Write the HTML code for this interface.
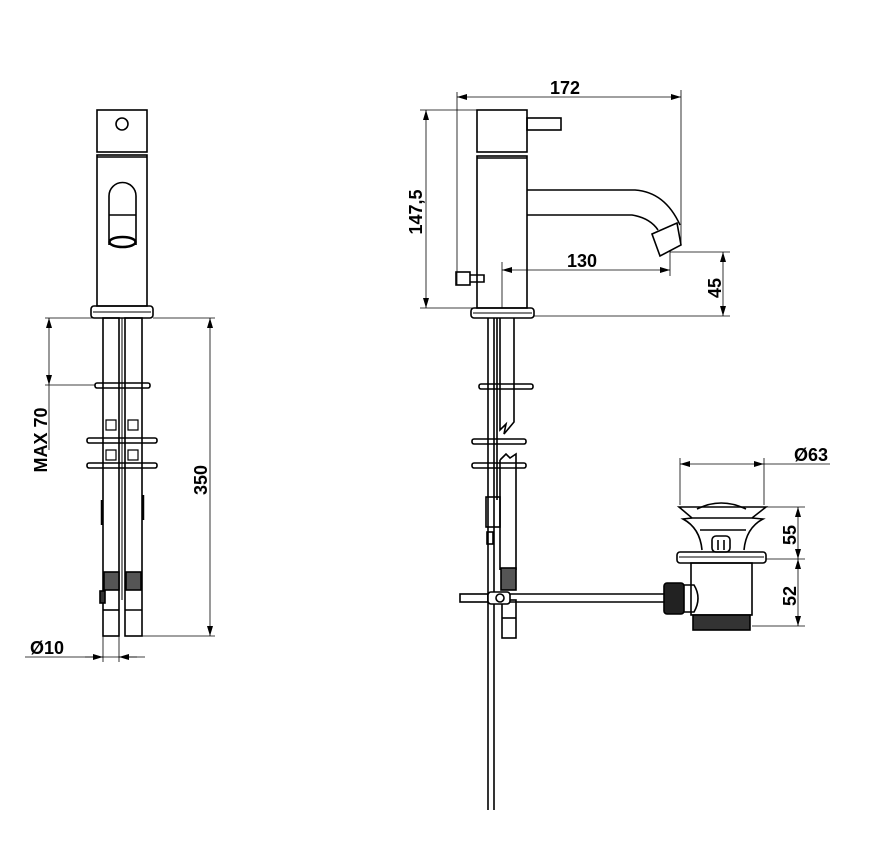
<!DOCTYPE html>
<html><head><meta charset="utf-8"><style>html,body{margin:0;padding:0;background:#fff}svg{display:block}</style></head>
<body>
<svg width="884" height="853" viewBox="0 0 884 853" xmlns="http://www.w3.org/2000/svg" font-family="Liberation Sans, sans-serif" font-weight="bold" font-size="18">
<defs>
<marker id="a" viewBox="0 0 10 6" refX="10" refY="3" markerWidth="10" markerHeight="6" orient="auto-start-reverse" markerUnits="userSpaceOnUse"><path d="M0,0 L10,3 L0,6 z" fill="#000"/></marker>
</defs>
<g fill="none" stroke="#000" stroke-width="1.6">
<!-- LEFT VIEW -->
<rect x="97" y="110" width="50" height="42"/>
<circle cx="122" cy="124" r="6"/>
<rect x="97" y="155" width="50" height="151"/>
<line x1="97" y1="157" x2="147" y2="157"/>
<path d="M109,245 V196 a13.5,13.5 0 0 1 27,0 V245"/>
<path d="M109,215 H136"/>
<ellipse cx="122.5" cy="242" rx="13" ry="5" stroke-width="2.5"/>
<rect x="91" y="306" width="62" height="12" rx="3"/>
<line x1="93" y1="312" x2="151" y2="312" stroke-width="1"/>
<rect x="103" y="318" width="16" height="318"/>
<rect x="125" y="318" width="17" height="318"/>
<line x1="122" y1="318" x2="122" y2="600" stroke-width="1"/>
<rect x="95" y="383" width="55" height="5" rx="2"/>
<rect x="87" y="438" width="70" height="5" rx="2"/>
<rect x="87" y="463" width="70" height="5" rx="2"/>
<path d="M106,420 h10 v10 h-10 z M128,420 h10 v10 h-10 z M106,450 h10 v10 h-10 z M128,450 h10 v10 h-10 z" stroke-width="1.2"/>
<rect x="104" y="572" width="15" height="18" fill="#555"/>
<rect x="126" y="572" width="15" height="18" fill="#555"/>
<rect x="100" y="591" width="5" height="12" fill="#333"/>
<line x1="103" y1="610" x2="119" y2="610"/><line x1="125" y1="610" x2="142" y2="610"/>
<line x1="102" y1="500" x2="102" y2="525" stroke-width="2.5"/>
<line x1="143" y1="495" x2="143" y2="520" stroke-width="2.5"/>
</g>
<g fill="none" stroke="#000" stroke-width="0.8">
<line x1="153" y1="318" x2="215" y2="318"/>
<line x1="142" y1="636" x2="215" y2="636"/>
<line x1="210" y1="318" x2="210" y2="636" marker-start="url(#a)" marker-end="url(#a)"/>
<line x1="45" y1="318" x2="103" y2="318"/>
<line x1="45" y1="385" x2="95" y2="385"/>
<line x1="49" y1="318" x2="49" y2="385" marker-start="url(#a)" marker-end="url(#a)"/>
<line x1="49" y1="385" x2="49" y2="450"/>
<line x1="103" y1="636" x2="103" y2="662"/>
<line x1="119" y1="636" x2="119" y2="662"/>
<line x1="25" y1="657" x2="145" y2="657"/>
<line x1="85" y1="657" x2="103" y2="657" marker-end="url(#a)"/>
<line x1="137" y1="657" x2="119" y2="657" marker-end="url(#a)"/>
</g>
<text x="0" y="0" transform="translate(207,480) rotate(-90)" text-anchor="middle">350</text>
<text x="0" y="0" transform="translate(47,440) rotate(-90)" text-anchor="middle">MAX 70</text>
<text x="30" y="654">Ø10</text>

<!-- RIGHT VIEW -->
<g fill="none" stroke="#000" stroke-width="1.6">
<rect x="477" y="110" width="50" height="42"/>
<rect x="527" y="118" width="34" height="12"/>
<rect x="477" y="156" width="50" height="152"/>
<line x1="477" y1="158" x2="527" y2="158"/>
<path d="M527,190 H635 Q665,192 680,225"/>
<path d="M527,215 H632 Q650,218 658,230"/>
<path d="M652,234 L677,223 L681,245 L660,256 Z" fill="#fff"/>
<rect x="456" y="272" width="14" height="13"/>
<path d="M470,275 H484 V282 H470"/>
<rect x="471" y="308" width="63" height="10" rx="3"/>
<line x1="473" y1="313" x2="532" y2="313" stroke-width="1"/>
<line x1="488" y1="318" x2="488" y2="810"/>
<line x1="494" y1="318" x2="494" y2="810"/>
<line x1="497" y1="318" x2="497" y2="500"/>
<path d="M500,318 V430 l6,-6 l-2,10 l10,-12 V318"/>
<path d="M500,460 l6,-6 l4,4 l6,-4 V570 M500,460 V570"/>
<rect x="479" y="384" width="54" height="5" rx="2"/>
<rect x="472" y="439" width="54" height="5" rx="2"/>
<rect x="472" y="463" width="54" height="5" rx="2"/>
<rect x="486" y="497" width="14" height="30"/>
<rect x="487" y="532" width="6" height="12"/>
<rect x="501" y="568" width="15" height="22" fill="#555"/>
<rect x="502" y="600" width="14" height="38"/>
<line x1="502" y1="618" x2="516" y2="618"/>
<rect x="460" y="594" width="28" height="8"/>
<rect x="488" y="592" width="22" height="12" rx="3" fill="#fff"/>
<circle cx="500" cy="598" r="4" fill="#fff"/>
<line x1="510" y1="594" x2="664" y2="594"/>
<line x1="510" y1="602" x2="664" y2="602"/>
<!-- drain -->
<path d="M697,509 Q721,497 746,509"/>
<path d="M679,507 H766 L752,518 H692 Z"/>
<path d="M692,518 L683,519 Q700,528 702,550 M752,518 L763,519 Q746,528 744,550"/>
<line x1="700" y1="530" x2="746" y2="530"/>
<rect x="712" y="536" width="18" height="16" rx="4"/>
<line x1="718" y1="540" x2="718" y2="550"/><line x1="724" y1="540" x2="724" y2="550"/>
<rect x="677" y="552" width="89" height="11" rx="3"/>
<line x1="679" y1="557" x2="764" y2="557" stroke-width="1"/>
<rect x="691" y="563" width="61" height="52"/>
<rect x="693" y="615" width="57" height="15" fill="#333"/>
<path d="M684,585 H694 Q702,598 694,612 H684"/>
<rect x="664" y="583" width="20" height="31" rx="3" fill="#222"/>
</g>
<g fill="none" stroke="#000" stroke-width="0.8">
<line x1="457" y1="92" x2="457" y2="285"/>
<line x1="681" y1="90" x2="681" y2="245"/>
<line x1="457" y1="97" x2="681" y2="97" marker-start="url(#a)" marker-end="url(#a)"/>
<line x1="420" y1="110" x2="477" y2="110"/>
<line x1="420" y1="308" x2="473" y2="308"/>
<line x1="426" y1="110" x2="426" y2="308" marker-start="url(#a)" marker-end="url(#a)"/>
<line x1="502" y1="262" x2="502" y2="308"/>
<line x1="670" y1="250" x2="670" y2="276"/>
<line x1="502" y1="270" x2="670" y2="270" marker-start="url(#a)" marker-end="url(#a)"/>
<line x1="670" y1="252" x2="730" y2="252"/>
<line x1="534" y1="316" x2="730" y2="316"/>
<line x1="723" y1="252" x2="723" y2="316" marker-start="url(#a)" marker-end="url(#a)"/>
<line x1="680" y1="458" x2="680" y2="505"/>
<line x1="764" y1="458" x2="764" y2="505"/>
<line x1="680" y1="464" x2="764" y2="464" marker-start="url(#a)" marker-end="url(#a)"/>
<line x1="764" y1="464" x2="830" y2="464"/>
<line x1="766" y1="507" x2="805" y2="507"/>
<line x1="766" y1="559" x2="805" y2="559"/>
<line x1="752" y1="626" x2="805" y2="626"/>
<line x1="798" y1="507" x2="798" y2="559" marker-start="url(#a)" marker-end="url(#a)"/>
<line x1="798" y1="559" x2="798" y2="626" marker-start="url(#a)" marker-end="url(#a)"/>
</g>
<text x="565" y="94" text-anchor="middle">172</text>
<text x="0" y="0" transform="translate(422,212) rotate(-90)" text-anchor="middle">147,5</text>
<text x="582" y="267" text-anchor="middle">130</text>
<text x="0" y="0" transform="translate(721,288) rotate(-90)" text-anchor="middle">45</text>
<text x="794" y="461">Ø63</text>
<text x="0" y="0" transform="translate(796,535) rotate(-90)" text-anchor="middle">55</text>
<text x="0" y="0" transform="translate(796,596) rotate(-90)" text-anchor="middle">52</text>
</svg>
</body></html>
